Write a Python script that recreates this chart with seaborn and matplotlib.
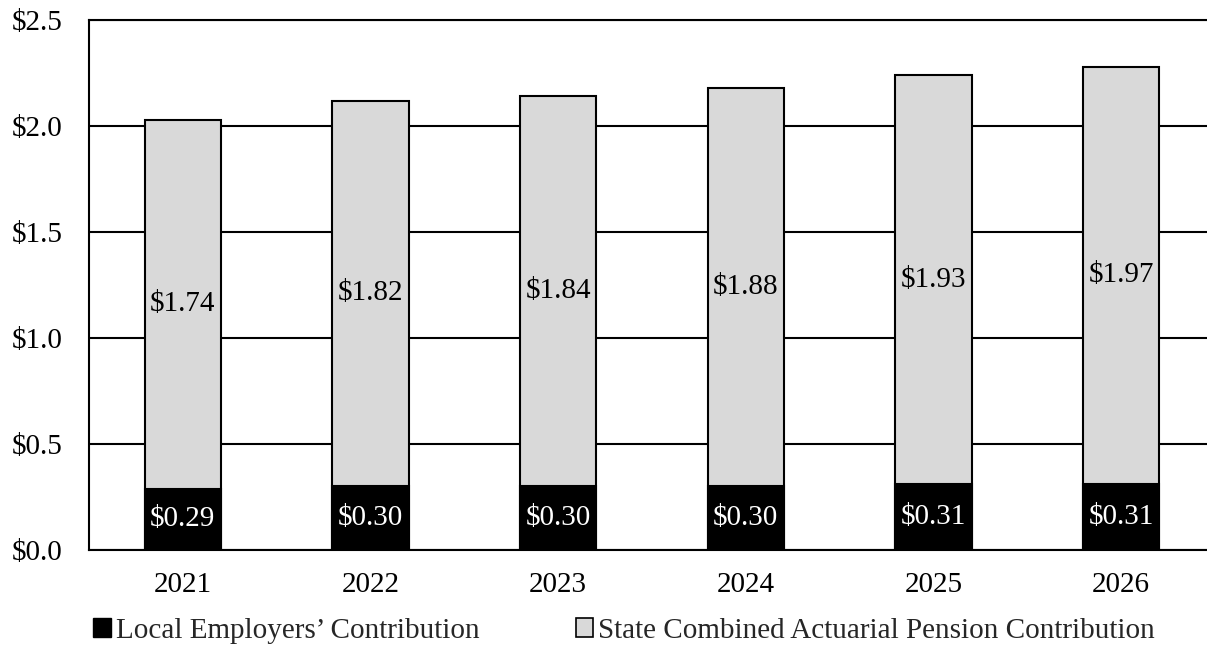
import matplotlib
matplotlib.use("Agg")
import matplotlib.pyplot as plt
from matplotlib.patches import Patch
from matplotlib.ticker import FuncFormatter, MultipleLocator
import seaborn as sns
import pandas as pd

years = ["2021", "2022", "2023", "2024", "2025", "2026"]
local_contrib = [0.29, 0.30, 0.30, 0.30, 0.31, 0.31]
state_contrib = [1.74, 1.82, 1.84, 1.88, 1.93, 1.97]

LOCAL_NAME = "Local Employers\u2019 Contribution"
STATE_NAME = "State Combined Actuarial Pension Contribution"

sns.set_theme(style="white")
plt.rcParams["font.family"] = ["Liberation Serif", "DejaVu Serif"]
plt.rcParams["font.size"] = 21

df = pd.DataFrame({"year": years, "local": local_contrib, "state": state_contrib})
df["total"] = df["local"] + df["state"]

W, H = 1207, 658
fig = plt.figure(figsize=(W / 100, H / 100), dpi=100)
ax = fig.add_axes([89 / W, 1 - 550 / H, (1215 - 89) / W, (550 - 20) / H])

bar_w = 0.405
# total height in light gray, local share overlaid in black at the base
sns.barplot(data=df, x="year", y="total", color="#D9D9D9", width=bar_w,
            edgecolor="black", linewidth=1.5, saturation=1, ax=ax, zorder=3)
sns.barplot(data=df, x="year", y="local", color="black", width=bar_w,
            edgecolor="black", linewidth=1.5, saturation=1, ax=ax, zorder=4)

for i, (lv, sv) in enumerate(zip(local_contrib, state_contrib)):
    ax.text(i, lv / 2, f"${lv:.2f}", ha="center", va="center",
            color="white", fontsize=21, zorder=5)
    ax.text(i, lv + sv / 2, f"${sv:.2f}", ha="center", va="center",
            color="black", fontsize=21, zorder=5)

ax.set_xlim(-0.5, 5.5)
ax.set_ylim(0, 2.5)
ax.yaxis.set_major_locator(MultipleLocator(0.5))
ax.yaxis.set_major_formatter(FuncFormatter(lambda v, p: f"${v:.1f}"))
ax.grid(axis="y", color="black", linewidth=1.5, zorder=0)
ax.set_axisbelow(True)
ax.set_xlabel("")
ax.set_ylabel("")
ax.tick_params(axis="both", length=0, labelsize=21, colors="black")
ax.tick_params(axis="x", pad=16)
ax.tick_params(axis="y", pad=19)
for s in ax.spines.values():
    s.set_color("black")
    s.set_linewidth(1.5)

handles = [Patch(facecolor="black", edgecolor="black", label=LOCAL_NAME),
           Patch(facecolor="#D9D9D9", edgecolor="black", linewidth=1.2, label=STATE_NAME)]
fig.legend(handles=handles, loc="center", bbox_to_anchor=(624 / W, 1 - 631 / H),
           ncol=2, frameon=False, fontsize=21, handlelength=0.6, handleheight=0.6,
           handletextpad=0.17, columnspacing=3.3, borderpad=0, borderaxespad=0)

fig.savefig("out.png", dpi=100)
